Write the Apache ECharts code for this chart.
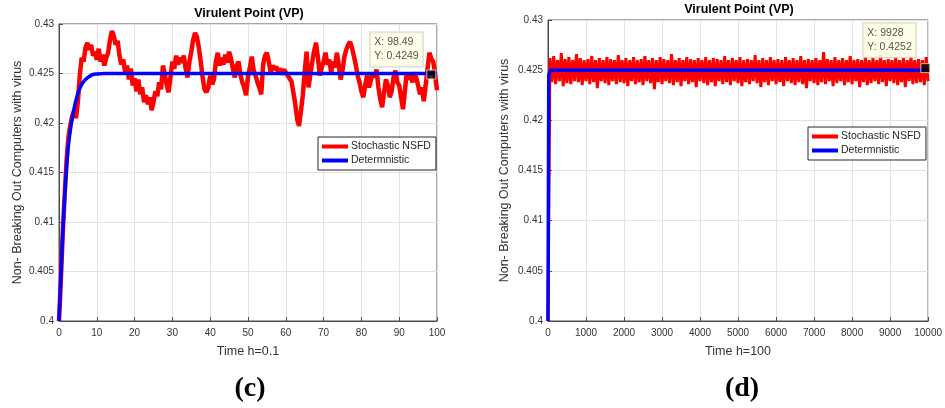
<!DOCTYPE html>
<html>
<head>
<meta charset="utf-8">
<script src="https://cdn.jsdelivr.net/npm/echarts@6.0.0/dist/echarts.min.js"></script>
<style>
  html, body { margin: 0; padding: 0; background: #fff; }
  #chart { width: 945px; height: 408px; }
</style>
</head>
<body>
<div id="chart"></div>
<script>
// panel (c): time step h=0.1, t in [0, 100]
const stochC = [
  [0, 0.4], [0.5, 0.4042], [1, 0.409], [1.5, 0.4128], [2, 0.4162], [2.5, 0.4186], [3, 0.4198], [3.5, 0.4207],
  [4, 0.4212], [4.5, 0.4205], [5, 0.4222], [5.5, 0.4248], [6, 0.4266], [6.5, 0.4262], [7, 0.4276], [7.5, 0.4281],
  [8, 0.4274], [8.5, 0.4279], [9, 0.4268], [9.5, 0.4272], [10, 0.4264], [10.5, 0.4275], [11, 0.4262], [11.5, 0.4269],
  [12, 0.4258], [12.5, 0.4266], [13, 0.4271], [13.5, 0.4284], [14, 0.4293], [14.5, 0.4288], [15, 0.4279], [15.5, 0.4283],
  [16, 0.4268], [16.5, 0.4259], [17, 0.4264], [17.5, 0.4251], [18, 0.4258], [18.5, 0.4244], [19, 0.4255], [19.5, 0.4238],
  [20, 0.4245], [20.5, 0.4232], [21, 0.4244], [21.5, 0.4229], [22, 0.4236], [22.5, 0.4221], [23, 0.4228], [23.5, 0.4219],
  [24, 0.4226], [24.5, 0.4213], [25, 0.4221], [25.5, 0.4232], [26, 0.4227], [26.5, 0.4241], [27, 0.4234], [27.5, 0.4258],
  [28, 0.4249], [28.5, 0.4238], [29, 0.4231], [29.5, 0.4247], [30, 0.4262], [30.5, 0.4255], [31, 0.4268], [31.5, 0.4259],
  [32, 0.4266], [32.5, 0.4261], [33, 0.4268], [33.5, 0.4255], [34, 0.4246], [34.5, 0.4262], [35, 0.4272], [35.5, 0.4284],
  [36, 0.4291], [36.5, 0.4287], [37, 0.4276], [37.5, 0.4262], [38, 0.4246], [38.5, 0.4234], [39, 0.4231], [39.5, 0.4236],
  [40, 0.4248], [40.5, 0.4239], [41, 0.4244], [41.5, 0.4262], [42, 0.4271], [42.5, 0.4258], [43, 0.4266], [43.5, 0.4259],
  [44, 0.4269], [44.5, 0.4261], [45, 0.4272], [45.5, 0.4265], [46, 0.4255], [46.5, 0.4246], [47, 0.4258], [47.5, 0.4262],
  [48, 0.4249], [48.5, 0.4241], [49, 0.4236], [49.5, 0.4228], [50, 0.4247], [50.5, 0.4256], [51, 0.4267], [51.5, 0.4253],
  [52, 0.4248], [52.5, 0.4241], [53, 0.4236], [53.5, 0.4229], [54, 0.4259], [54.5, 0.4268], [55, 0.4271], [55.5, 0.4262],
  [56, 0.4251], [56.5, 0.4258], [57, 0.4254], [57.5, 0.4257], [58, 0.4251], [58.5, 0.4255], [59, 0.4249], [59.5, 0.4254],
  [60, 0.4252], [60.5, 0.4248], [61, 0.4246], [61.5, 0.4242], [62, 0.4231], [62.5, 0.4219], [63, 0.4204], [63.5, 0.4197],
  [64, 0.4212], [64.5, 0.4228], [65, 0.4252], [65.5, 0.4272], [66, 0.4236], [66.5, 0.4249], [67, 0.4262], [67.5, 0.4273],
  [68, 0.4281], [68.5, 0.4266], [69, 0.4248], [69.5, 0.4256], [70, 0.4262], [70.5, 0.4271], [71, 0.4259], [71.5, 0.4264],
  [72, 0.4251], [72.5, 0.4262], [73, 0.4256], [73.5, 0.4271], [74, 0.4259], [74.5, 0.4244], [75, 0.4253], [75.5, 0.4267],
  [76, 0.4274], [76.5, 0.4279], [77, 0.4282], [77.5, 0.4276], [78, 0.4268], [78.5, 0.4259], [79, 0.4248], [79.5, 0.4241],
  [80, 0.4232], [80.5, 0.4226], [81, 0.4238], [81.5, 0.4248], [82, 0.4236], [82.5, 0.4243], [83, 0.4251], [83.5, 0.4246],
  [84, 0.4254], [84.5, 0.4236], [85, 0.4224], [85.5, 0.4216], [86, 0.4231], [86.5, 0.4244], [87, 0.4238], [87.5, 0.4226],
  [88, 0.4232], [88.5, 0.4246], [89, 0.4253], [89.5, 0.4241], [90, 0.4238], [90.5, 0.4226], [91, 0.4214], [91.5, 0.4232],
  [92, 0.4251], [92.5, 0.4244], [93, 0.4248], [93.5, 0.4241], [94, 0.4251], [94.5, 0.4246], [95, 0.4238], [95.5, 0.4229],
  [96, 0.4236], [96.5, 0.4222], [97, 0.4238], [97.5, 0.4255], [98, 0.4271], [98.5, 0.4265], [99, 0.4262], [99.5, 0.4249],
  [100, 0.4233]
];
const detC = [
  [0, 0.4], [0.5, 0.4045], [1, 0.4088], [1.5, 0.4125], [2, 0.4155], [2.5, 0.4178], [3, 0.4193], [3.5, 0.4205],
  [4, 0.4215], [4.5, 0.4223], [5, 0.423], [6, 0.4239], [7, 0.4244], [8, 0.4247], [9, 0.4249], [10, 0.42495],
  [12, 0.425], [100, 0.425]
];
const tipC = [98.49, 0.4249];

// panel (d): time step h=100, sampled every 50 units of t
const stochDStep = 50;
const stochD = [
  0.4, 0.4262, 0.4238, 0.4264, 0.4236, 0.4260, 0.4239, 0.4267, 0.4234, 0.4261, 0.4237, 0.4263, 0.4236, 0.4260, 0.4239, 0.4266, 0.4238, 0.4262, 0.4235, 0.4260,
  0.4239, 0.4261, 0.4236, 0.4264, 0.4238, 0.4260, 0.4232, 0.4262, 0.4239, 0.4260, 0.4237, 0.4263, 0.4235, 0.4261, 0.4239, 0.4260, 0.4236, 0.4265, 0.4238, 0.4260,
  0.4237, 0.4262, 0.4234, 0.4260, 0.4239, 0.4263, 0.4236, 0.4260, 0.4238, 0.4261, 0.4235, 0.4264, 0.4239, 0.4260, 0.4237, 0.4262, 0.4231, 0.4260, 0.4238, 0.4263,
  0.4236, 0.4261, 0.4239, 0.4260, 0.4237, 0.4266, 0.4235, 0.4260, 0.4238, 0.4262, 0.4234, 0.4260, 0.4239, 0.4263, 0.4236, 0.4261, 0.4238, 0.4260, 0.4233, 0.4262,
  0.4239, 0.4260, 0.4237, 0.4263, 0.4235, 0.4260, 0.4238, 0.4262, 0.4234, 0.4261, 0.4239, 0.4260, 0.4236, 0.4264, 0.4238, 0.4260, 0.4235, 0.4262, 0.4239, 0.4260,
  0.4237, 0.4263, 0.4234, 0.4260, 0.4238, 0.4261, 0.4236, 0.4260, 0.4239, 0.4265, 0.4237, 0.4260, 0.4233, 0.4262, 0.4238, 0.4260, 0.4235, 0.4263, 0.4239, 0.4260,
  0.4236, 0.4261, 0.4238, 0.4260, 0.4234, 0.4263, 0.4239, 0.4260, 0.4237, 0.4262, 0.4235, 0.4260, 0.4238, 0.4264, 0.4236, 0.4260, 0.4232, 0.4261, 0.4239, 0.4260,
  0.4237, 0.4262, 0.4235, 0.4260, 0.4238, 0.4268, 0.4236, 0.4261, 0.4239, 0.4260, 0.4234, 0.4263, 0.4237, 0.4260, 0.4239, 0.4262, 0.4235, 0.4260, 0.4238, 0.4264,
  0.4236, 0.4260, 0.4239, 0.4261, 0.4233, 0.4260, 0.4238, 0.4263, 0.4235, 0.4260, 0.4237, 0.4262, 0.4239, 0.4260, 0.4236, 0.4265, 0.4238, 0.4260, 0.4234, 0.4261,
  0.4239, 0.4260, 0.4237, 0.4263, 0.4235, 0.4260, 0.4238, 0.4262, 0.4233, 0.4260, 0.4239, 0.4264, 0.4236, 0.4260, 0.4237, 0.4261, 0.4238, 0.4260, 0.4235, 0.4263,
  0.4239
];
const detD = [[0, 0.4], [20, 0.4245], [60, 0.425], [10000, 0.425]];
const tipD = [9928, 0.4252];

const seriesNames = ["Stochastic NSFD", "Determnistic"];

const axisGrey = "#4d4d4d";
const textGrey = "#333";

function xAxisFor(gridIndex, max, interval, name) {
  return {
    type: "value",
    gridIndex,
    min: 0,
    max,
    interval,
    name,
    nameLocation: "middle",
    nameGap: 24,
    nameTextStyle: { fontSize: 12.5, color: textGrey, fontFamily: "Liberation Sans" },
    axisLine: { show: true, lineStyle: { color: axisGrey } },
    axisTick: { inside: true, length: 4, lineStyle: { color: axisGrey } },
    axisLabel: {
      fontSize: 10, color: textGrey, margin: 7, fontFamily: "Liberation Sans",
      formatter: v => String(v),
    },
    splitLine: { show: true, lineStyle: { color: "#e2e2e2" } },
  };
}

function yAxisFor(gridIndex, nameGap) {
  return {
    type: "value",
    gridIndex,
    min: 0.4,
    max: 0.43,
    interval: 0.005,
    name: "Non- Breaking Out Computers with virus",
    nameLocation: "middle",
    nameGap,
    nameTextStyle: { fontSize: 12.5, color: textGrey, fontFamily: "Liberation Sans" },
    axisLine: { show: true, lineStyle: { color: axisGrey } },
    axisTick: { inside: true, length: 4, lineStyle: { color: axisGrey } },
    axisLabel: { fontSize: 10, color: textGrey, margin: 5, fontFamily: "Liberation Sans" },
    splitLine: { show: true, lineStyle: { color: "#e2e2e2" } },
  };
}

function legendFor(left, top) {
  return {
    left,
    top,
    orient: "vertical",
    data: seriesNames,
    icon: "rect",
    itemWidth: 26,
    itemHeight: 4,
    itemGap: 3,
    padding: [4, 5, 4, 4],
    backgroundColor: "#fff",
    borderColor: "#262626",
    borderWidth: 1,
    borderRadius: 0,
    selectedMode: false,
    textStyle: { fontSize: 10.5, color: "#262626", fontFamily: "Liberation Sans", padding: [0, 0, 0, -2] },
  };
}

function dataTip(idx, point, text, offset) {
  return {
    name: "datatip",
    type: "scatter",
    xAxisIndex: idx,
    yAxisIndex: idx,
    data: [point],
    symbol: "rect",
    symbolSize: 9,
    itemStyle: { color: "#000", borderColor: "#e8e8d0", borderWidth: 1 },
    z: 5,
    label: {
      show: true,
      position: "inside",
      offset,
      formatter: text,
      align: "left",
      fontSize: 10.5,
      lineHeight: 14,
      color: "#262626",
      fontFamily: "Liberation Sans",
      backgroundColor: "#ffffe4",
      borderColor: "#c9c9b8",
      borderWidth: 1,
      padding: [3, 4, 3, 4],
    },
    silent: true,
  };
}

const stochDData = stochD.map((v, i) => [i * stochDStep, v]);

const chart = echarts.init(document.getElementById("chart"), null, { renderer: "canvas" });

chart.setOption({
  animation: false,
  backgroundColor: "#fff",
  title: [
    {
      text: "Virulent Point (VP)",
      left: 249,
      top: 7,
      textAlign: "center",
      padding: 0,
      textStyle: { fontSize: 12.5, fontWeight: "bold", color: "#000", fontFamily: "Liberation Sans" },
    },
    {
      text: "Virulent Point (VP)",
      left: 739,
      top: 3,
      textAlign: "center",
      padding: 0,
      textStyle: { fontSize: 12.5, fontWeight: "bold", color: "#000", fontFamily: "Liberation Sans" },
    },
  ],
  legend: [legendFor(318, 137), legendFor(808, 127)],
  grid: [
    { left: 59, right: 508, top: 24, bottom: 87, show: true, borderColor: axisGrey, borderWidth: 1, backgroundColor: "#fff" },
    { left: 548, right: 16, top: 20, bottom: 87, show: true, borderColor: axisGrey, borderWidth: 1, backgroundColor: "#fff" },
  ],
  xAxis: [xAxisFor(0, 100, 10, "Time h=0.1"), xAxisFor(1, 10000, 1000, "Time h=100")],
  yAxis: [yAxisFor(0, 35), yAxisFor(1, 37)],
  series: [
    {
      name: seriesNames[0], type: "line", xAxisIndex: 0, yAxisIndex: 0, data: stochC,
      showSymbol: false, lineStyle: { color: "#ff0000", width: 4.5 }, itemStyle: { color: "#ff0000" },
    },
    {
      name: seriesNames[1], type: "line", xAxisIndex: 0, yAxisIndex: 0, data: detC, smooth: 0.3,
      showSymbol: false, lineStyle: { color: "#0000ff", width: 3.5 }, itemStyle: { color: "#0000ff" },
    },
    dataTip(0, tipC, "X: 98.49\nY: 0.4249", [-61, -25]),
    {
      name: seriesNames[0], type: "line", xAxisIndex: 1, yAxisIndex: 1, data: stochDData,
      showSymbol: false, lineStyle: { color: "#ff0000", width: 3 }, itemStyle: { color: "#ff0000" },
    },
    {
      name: seriesNames[1], type: "line", xAxisIndex: 1, yAxisIndex: 1, data: detD,
      showSymbol: false, lineStyle: { color: "#0000ff", width: 3.5 }, itemStyle: { color: "#0000ff" },
    },
    dataTip(1, tipD, "X: 9928\nY: 0.4252", [-62, -28]),
  ],
  graphic: [
    { type: "text", x: 250, y: 389, style: { text: "(c)", align: "center", verticalAlign: "middle", font: "bold 28px 'Liberation Serif'", fill: "#000" } },
    { type: "text", x: 742, y: 389, style: { text: "(d)", align: "center", verticalAlign: "middle", font: "bold 28px 'Liberation Serif'", fill: "#000" } },
  ],
});
</script>
</body>
</html>
